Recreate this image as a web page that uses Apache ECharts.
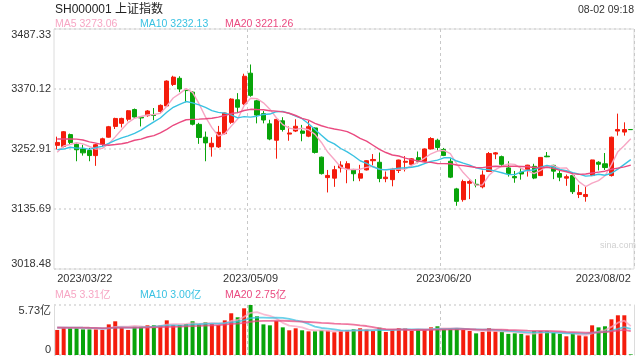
<!DOCTYPE html>
<html><head><meta charset="utf-8">
<script src="https://cdn.jsdelivr.net/npm/echarts@6/dist/echarts.min.js"></script>
<style>html,body{margin:0;padding:0;background:#fff}#c{width:640px;height:360px}</style>
</head><body><div id="c"></div>
<script>
const titleText = 'SH000001 上证指数';
const timeText = '08-02 09:18';
const year = '2023';
const dates = [
 '03/22','03/23','03/24','03/27','03/28','03/29','03/30','03/31',
 '04/03','04/04','04/06','04/07','04/10','04/11','04/12','04/13','04/14','04/17','04/18','04/19','04/20','04/21','04/24','04/25','04/26','04/27','04/28',
 '05/04','05/05','05/08','05/09','05/10','05/11','05/12','05/15','05/16','05/17','05/18','05/19','05/22','05/23','05/24','05/25','05/26','05/29','05/30','05/31',
 '06/01','06/02','06/05','06/06','06/07','06/08','06/09','06/12','06/13','06/14','06/15','06/16','06/19','06/20','06/21','06/26','06/27','06/28','06/29','06/30',
 '07/03','07/04','07/05','07/06','07/07','07/10','07/11','07/12','07/13','07/14','07/17','07/18','07/19','07/20','07/21','07/24','07/25','07/26','07/27','07/28','07/31',
 '08/01','08/02'];
const opens = [3260,3258,3281,3262,3253,3250,3240,3262,3276,3297,3303,3311,3330,3315,3318,3320,3326,3337,3379,3391,3368,3364,3301,3276,3257,3257,3283,3305,3349,3341,
 3401,3347,3322,3302,3270,3308,3282,3288,3288,3278,3294,3237,3197,3196,3216,3214,3213,3196,3212,3230,3227,3195,3193,3211,3227,3223,3236,3229,3253,3270,
 3252,3229,3175,3154,3186,3184,3179,3209,3243,3238,3216,3199,3208,3211,3219,3201,3239,3221,3205,3196,3201,3164,3160,3201,3227,3224,3201,3288,3286,3291];
const closes = [3265.75,3286.65,3265.65,3251.40,3245.38,3240.06,3261.25,3272.86,3296.40,3312.56,3312.63,3327.65,3315.36,3313.57,3327.18,3318.36,3338.15,3385.61,3393.33,3370.13,
 3367.03,3301.26,3275.41,3264.87,3264.10,3285.48,3323.28,3350.46,3334.50,3395.00,3357.67,3319.15,3309.55,3272.36,3310.74,3290.99,3284.23,3297.32,3283.54,3296.47,
 3246.24,3204.80,3201.26,3212.50,3221.45,3224.21,3204.56,3204.63,3230.07,3232.44,3195.34,3197.90,3213.59,3231.41,3228.83,3233.67,3228.99,3252.98,3273.33,3255.81,
 3240.36,3197.90,3150.62,3189.38,3189.44,3182.38,3202.06,3243.98,3245.35,3222.95,3205.25,3196.61,3204.10,3221.37,3196.13,3236.48,3237.70,3209.63,3197.82,3198.84,
 3169.52,3167.75,3164.06,3231.52,3223.14,3216.67,3275.93,3291.04,3290.95,3290.70];
const lows = [3252,3256,3262,3229,3240,3229,3220,3258,3275,3292,3295,3307,3313,3297,3316,3309,3323,3335,3376,3364,3344,3299,3263,3229,3238,3255,3281,3302,3323,3339,
 3355,3303,3303,3270,3234,3287,3269,3286,3268,3276,3244,3203,3168,3179,3207,3186,3190,3190,3211,3221,3188,3188,3180,3206,3209,3219,3225,3228,3252,3250,
 3239,3196,3142,3150,3155,3178,3176,3208,3233,3219,3199,3187,3193,3199,3194,3200,3237,3194,3190,3181,3165,3157,3150,3200,3211,3212,3199,3279,3279,3290.5];
const highs = [3277,3288,3283,3264,3261,3255,3263,3275,3298,3314,3314,3329,3332,3317,3329,3333,3340,3387,3396,3395,3370,3366,3304,3287,3276,3298,3324,3352,3362,3400,
 3418,3349,3327,3310,3312,3315,3297,3311,3300,3308,3295,3238,3212,3220,3229,3229,3214,3222,3231,3243,3246,3209,3216,3232,3239,3235,3248,3254,3276,3273,
 3255,3235,3177,3193,3193,3194,3211,3247,3247,3240,3229,3210,3216,3222,3224,3237,3247,3222,3213,3203,3203,3183,3179,3232,3229,3245,3277,3322,3305,3291.2];
const volumes = [2.87,3.13,3.13,3.13,2.94,2.94,2.94,2.87,3.51,3.86,3.13,2.87,3.25,3.25,3.40,3.40,3.40,3.97,3.44,3.44,
 3.55,3.86,3.51,3.74,3.55,3.44,3.97,4.78,4.32,5.35,5.73,4.43,3.51,3.40,3.90,3.17,2.83,3.06,2.83,2.71,
 2.71,2.83,2.79,2.60,2.77,2.87,2.94,3.06,2.94,2.75,3.13,2.64,2.94,3.06,3.06,2.75,2.94,2.94,3.17,3.29,
 2.94,2.94,3.06,2.87,2.75,2.48,2.64,3.06,2.71,2.64,2.42,2.48,2.42,2.25,2.75,2.75,2.75,2.57,2.42,2.14,
 2.48,2.25,2.14,3.40,3.17,3.29,4.09,4.55,4.55,0.07];
// closes / volumes of the 19 sessions before the first shown day (estimated from where the MA lines start)
const priorCloses = [3287.48,3267.16,3258.03,3279.61,3312.35,3310.65,3328.39,3322.03,3285.10,3283.25,3276.09,3230.08,3268.70,3245.31,3263.31,3226.89,3250.55,3234.91,3255.65];
const priorVolumes = [3.05,3.10,2.95,3.00,3.30,3.25,3.35,3.20,3.10,3.00,3.05,3.20,3.15,3.05,3.10,3.20,3.30,3.15,3.25];
const yTicks = [3018.48, 3135.69, 3252.91, 3370.12, 3487.33];
const volTicks = [0, 5.73];
const labelIdx = [0, 30, 60, 89];
const splitIdx = [30, 60];
const maPeriods = [5, 10, 20];
const maColors = ['#f7a6c4', '#3ac2e2', '#ea4a80'];

const RED = '#f41c0c', GREEN = '#08a40a';
const FONT = '"Liberation Sans", Arial, "Noto Sans CJK SC", sans-serif';

function movingAvg(prior, arr, n) {
  const all = prior.concat(arr);
  return arr.map((_, i) => {
    const end = prior.length + i;
    let s = 0;
    for (let k = end - n + 1; k <= end; k++) s += all[k];
    return s / n;
  });
}
const cats = dates.map(d => year + '/' + d);
const candleData = cats.map((_, i) => [opens[i], closes[i], lows[i], highs[i]]);
const priceMA = maPeriods.map(n => movingAvg(priorCloses, closes, n));
const volMA = maPeriods.map(n => movingAvg(priorVolumes, volumes, n));
const last = a => a[a.length - 1];

const chart = echarts.init(document.getElementById('c'), null, {renderer: 'canvas'});
const legendX = [55, 140, 225];
const graphics = [
  {type: 'text', left: 55, top: 4, style: {text: titleText, fill: '#222', font: '12px ' + FONT}},
  {type: 'text', right: 6, top: 5, style: {text: timeText, fill: '#333', font: '10.5px ' + FONT}},
  {type: 'text', left: 600, top: 241, style: {text: 'sina.com', fill: '#d0d0d0', font: '9px ' + FONT}}
];
maPeriods.forEach((n, k) => {
  graphics.push({type: 'text', left: legendX[k], top: 19, style: {text: 'MA' + n + ' ' + last(priceMA[k]).toFixed(2), fill: maColors[k], font: '10.5px ' + FONT}});
  graphics.push({type: 'text', left: legendX[k], top: 290, style: {text: 'MA' + n + ' ' + last(volMA[k]).toFixed(2) + '亿', fill: maColors[k], font: '10.5px ' + FONT}});
});

const series = [{
  type: 'candlestick', xAxisIndex: 0, yAxisIndex: 0, data: candleData, barWidth: '70%',
  itemStyle: {color: RED, color0: GREEN, borderColor: RED, borderColor0: GREEN, borderWidth: 1}
}];
maPeriods.forEach((n, k) => {
  series.push({type: 'line', name: 'MA' + n, xAxisIndex: 0, yAxisIndex: 0, data: priceMA[k], showSymbol: false, z: 5,
    lineStyle: {color: maColors[k], width: 1.4}});
});
series.push({
  type: 'bar', xAxisIndex: 1, yAxisIndex: 1, barWidth: '62%',
  data: volumes.map((v, i) => ({value: v, itemStyle: {color: closes[i] >= opens[i] ? RED : GREEN}}))
});
maPeriods.forEach((n, k) => {
  series.push({type: 'line', name: 'VMA' + n, xAxisIndex: 1, yAxisIndex: 1, data: volMA[k], showSymbol: false, z: 5,
    lineStyle: {color: maColors[k], width: 1.8, opacity: 0.75}});
});

const splitX = {show: true, interval: (i) => splitIdx.includes(i), lineStyle: {color: '#c8c8c8', type: [3, 3], width: 1}};
chart.setOption({
  animation: false,
  backgroundColor: '#fff',
  textStyle: {fontFamily: FONT},
  graphic: graphics,
  grid: [
    {left: 54, right: 6, top: 29, height: 240, show: true, borderColor: '#dcdcdc', borderWidth: 1},
    {left: 54, right: 6, top: 305, height: 50, show: false}
  ],
  xAxis: [
    {type: 'category', gridIndex: 0, data: cats, boundaryGap: true,
     axisLine: {show: false}, axisTick: {show: false},
     axisLabel: {interval: (i) => labelIdx.includes(i), color: '#333', fontSize: 11, margin: 4, fontFamily: FONT,
       alignMinLabel: 'left', alignMaxLabel: 'right'},
     splitLine: splitX},
    {type: 'category', gridIndex: 1, data: cats, boundaryGap: true,
     axisLine: {show: false}, axisTick: {show: false}, axisLabel: {show: false},
     splitLine: splitX}
  ],
  yAxis: [
    {type: 'value', gridIndex: 0, min: yTicks[0], max: yTicks[yTicks.length - 1],
     axisLine: {show: false}, axisTick: {show: false, customValues: yTicks},
     axisLabel: {customValues: yTicks, formatter: v => v.toFixed(2), color: '#333', fontSize: 11, margin: 3, fontFamily: FONT,
       verticalAlignMinLabel: 'bottom', verticalAlignMaxLabel: 'top'},
     splitLine: {show: true, lineStyle: {color: '#d6d6d6', type: [2, 3], width: 1.5}}},
    {type: 'value', gridIndex: 1, min: volTicks[0], max: volTicks[1],
     axisLine: {show: true, lineStyle: {color: '#dcdcdc'}}, axisTick: {show: false, customValues: volTicks},
     axisLabel: {customValues: volTicks, formatter: v => v === 0 ? '0' : v.toFixed(2) + '亿', color: '#333', fontSize: 11, margin: 3, fontFamily: FONT,
       verticalAlignMinLabel: 'bottom', verticalAlignMaxLabel: 'top'},
     splitLine: {show: true, lineStyle: {color: '#d6d6d6', type: [2, 3], width: 1.5}}},
    {type: 'value', gridIndex: 1, position: 'right', min: volTicks[0], max: volTicks[1],
     axisLine: {show: true, lineStyle: {color: '#dcdcdc'}}, axisTick: {show: false}, axisLabel: {show: false}, splitLine: {show: false}}
  ],
  series: series
});
</script>
</body></html>
